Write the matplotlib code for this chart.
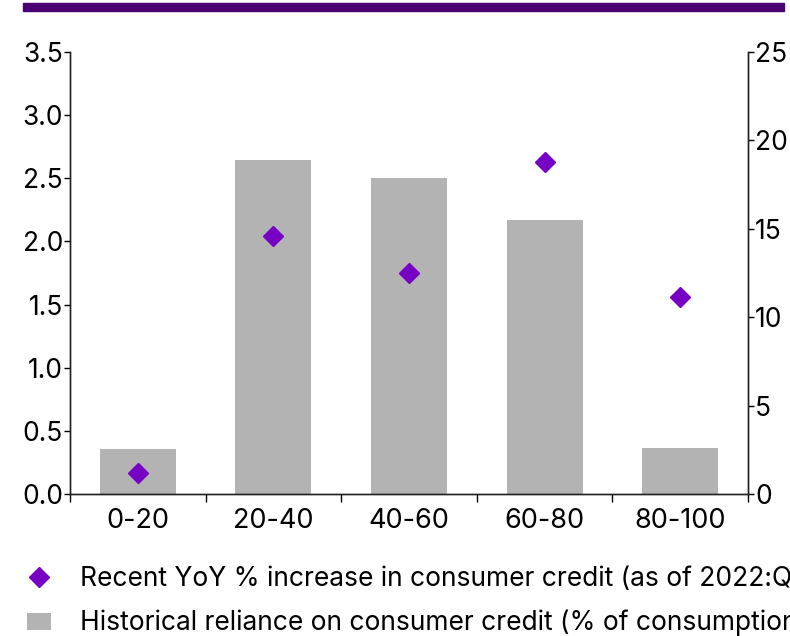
import matplotlib.pyplot as plt
from matplotlib.lines import Line2D
from matplotlib.patches import Patch, Rectangle
import numpy as np

plt.rcParams['font.family'] = ['Inter', 'DejaVu Sans']

categories = ['0-20', '20-40', '40-60', '60-80', '80-100']
reliance = [2.55, 18.9, 17.9, 15.5, 2.6]        # right axis, % of consumption
yoy_increase = [0.17, 2.04, 1.75, 2.63, 1.56]   # left axis, YoY %

bar_color = '#b3b3b3'
dot_color = '#7600c4'
band_color = '#4a0072'

W, H = 790, 636
fig = plt.figure(figsize=(W / 100, H / 100), dpi=100)
ax = fig.add_axes([70 / W, 1 - 494 / H, (748 - 70) / W, (494 - 52) / H])

x = np.arange(len(categories))

# bars on the right-hand scale
ax.bar(x, reliance, width=0.56, color=bar_color, zorder=2)
ax.set_ylim(0, 25)
ax.set_yticks(range(0, 26, 5))

# diamonds on the left-hand scale, drawn above the bars
ax2 = ax.twinx()
ax2.plot(x, yoy_increase, 'D', color=dot_color, markersize=10, zorder=3)
ax2.set_ylim(0, 3.5)
ax2.set_yticks(np.arange(0, 3.51, 0.5))
ax2.set_yticklabels([f'{v:.1f}' for v in np.arange(0, 3.51, 0.5)])
ax2.yaxis.tick_left()
ax.yaxis.tick_right()

ax.set_xlim(-0.5, len(categories) - 0.5)
ax.set_xticks(x)
ax.set_xticklabels(categories)
ax.set_xticks(np.arange(-0.5, len(categories), 1), minor=True)
ax.tick_params(axis='x', which='major', length=0, labelsize=19.5, pad=10)
ax.tick_params(axis='x', which='minor', length=6, width=1, direction='out')

for a in (ax, ax2):
    a.spines['top'].set_visible(False)
    for s in ('left', 'right', 'bottom'):
        a.spines[s].set_linewidth(1)
        a.spines[s].set_color('#222222')
ax.tick_params(axis='y', length=4, width=1, labelsize=19, pad=1)
ax2.tick_params(axis='y', length=4, width=1, labelsize=19, pad=1)

# purple band at the top
fig.patches.append(Rectangle((23 / W, 1 - 11 / H), (784 - 23) / W, 8 / H,
                             transform=fig.transFigure, color=band_color, zorder=0))

handles = [
    Line2D([], [], marker='D', linestyle='none', color=dot_color, markersize=10),
    Patch(facecolor=bar_color, edgecolor='none'),
]
labels = [
    'Recent YoY % increase in consumer credit (as of 2022:Q3)',
    'Historical reliance on consumer credit (% of consumption)',
]
fig.legend(handles, labels, loc='upper left', bbox_to_anchor=(27 / W, 1 - 566 / H),
           frameon=False, fontsize=19, handlelength=0.9, handleheight=0.6,
           handletextpad=1.1, labelspacing=0.68, borderaxespad=0, borderpad=0)

fig.savefig('out.png', dpi=100)
